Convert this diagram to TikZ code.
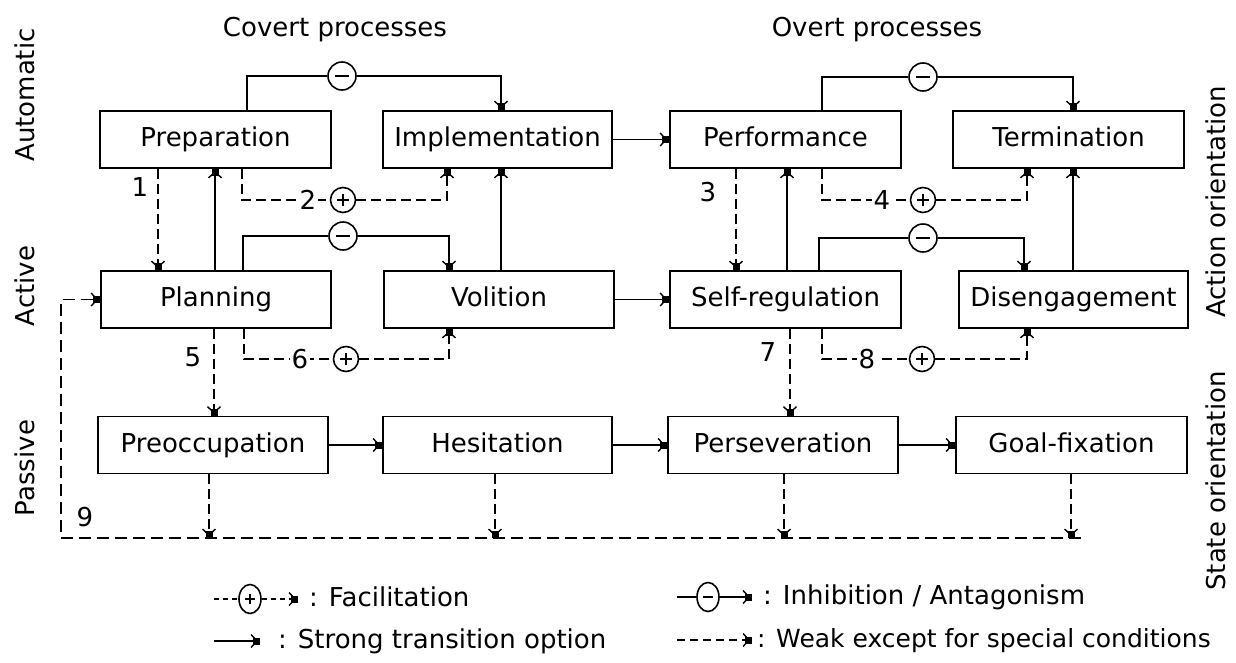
\documentclass[tikz,border=0pt]{standalone}
\usepackage{fontspec}
\setmainfont{DejaVu Sans}
\usetikzlibrary{arrows.meta,shapes.geometric}
\newcommand\figfont{\fontsize{26}{30}\selectfont}
\newcommand\legfont{\fontsize{25}{30}\selectfont}
\tikzset{
  box/.style={draw, line width=1.8pt, minimum height=57pt, inner sep=0pt, font=\figfont, text height=19pt, text depth=5pt},
  tipend/.style={-{Straight Barb[length=6pt,width=13pt,line width=1.4pt,sep=-5pt]Square[length=7pt,width=7pt]}},
  strong/.style={line width=1.8pt},
  weak/.style={line width=1.8pt, dash pattern=on 10pt off 5pt},
  sgn/.style={draw, fill=white, line width=1.6pt, inner sep=0pt},
  minus/.style={sgn, circle, minimum size=28pt,
    path picture={\draw[line width=1.7pt] ([xshift=-7pt]path picture bounding box.center) -- ([xshift=7pt]path picture bounding box.center);}},
  plus/.style={sgn, circle, minimum size=25pt,
    path picture={\draw[line width=1.7pt] ([xshift=-6pt]path picture bounding box.center) -- ([xshift=6pt]path picture bounding box.center)
      ([yshift=-6pt]path picture bounding box.center) -- ([yshift=6pt]path picture bounding box.center);}},
  num/.style={font=\figfont, inner sep=1pt},
  numw/.style={font=\figfont, inner sep=1.5pt, fill=white},
  txt/.style={font=\figfont, inner sep=0pt},
  legtxt/.style={font=\figfont, inner sep=0pt, anchor=west, text height=19pt, text depth=5pt},
}
\begin{document}
\begin{tikzpicture}[x=1pt, y=-1pt]
\useasboundingbox[fill=white] (0,0) rectangle (1236,662);

% titles
\node[txt, anchor=base] (tcov) at (335,36) {Covert processes};
\node[txt, anchor=base] (tov) at (877,36) {Overt processes};
\node[txt, rotate=90] (tauto) at (25,95) {Automatic};
\node[txt, rotate=90] (tact) at (25,286) {Active};
\node[txt, rotate=90] (tpass) at (25,468) {Passive};
\node[txt, rotate=90] (tao) at (1216,202) {Action orientation};
\node[txt, rotate=90] (tso) at (1216,481) {State orientation};

% boxes
\node[box, minimum width=231pt] (prep) at (215.5,139.5) {Preparation};
\node[box, minimum width=229pt] (impl) at (497.5,139.5) {Implementation};
\node[box, minimum width=231pt] (perf) at (785.5,139.5) {Performance};
\node[box, minimum width=231pt] (term) at (1068.5,139.5) {Termination};
\node[box, minimum width=230pt] (plan) at (216,299.5) {Planning};
\node[box, minimum width=230pt] (voli) at (499,299.5) {Volition};
\node[box, minimum width=231pt] (selfr) at (785.5,299.5) {Self-regulation};
\node[box, minimum width=229pt] (dise) at (1073.5,299.5) {Disengagement};
\node[box, minimum width=230pt] (preo) at (213,445) {Preoccupation};
\node[box, minimum width=229pt] (hesi) at (497.5,445) {Hesitation};
\node[box, minimum width=230pt] (pers) at (783,445) {Perseveration};
\node[box, minimum width=231pt] (goal) at (1071.5,445) {Goal-fixation};

% sign circles
\node[minus] (m1) at (342,76) {};
\node[minus] (m2) at (923,77) {};
\node[minus] (m3) at (343,236) {};
\node[minus] (m4) at (923,238) {};
\node[plus] (p1) at (343,200) {};
\node[plus] (p2) at (923,200) {};
\node[plus] (p3) at (346,359) {};
\node[plus] (p4) at (922,359) {};

% inhibition lines
\draw[strong] ([xshift=31.5pt]prep.north) |- (m1.west);
\draw[strong, tipend] (m1.east) -| ([xshift=3.5pt]impl.north);
\draw[strong] ([xshift=36.5pt]perf.north) |- (m2.west);
\draw[strong, tipend] (m2.east) -| ([xshift=4.5pt]term.north);
\draw[strong] ([xshift=27pt]plan.north) |- (m3.west);
\draw[strong, tipend] (m3.east) -| ([xshift=-50pt]voli.north);
\draw[strong] ([xshift=33.5pt]selfr.north) |- (m4.west);
\draw[strong, tipend] (m4.east) -| ([xshift=-49.5pt]dise.north);

% facilitation lines
\draw[weak] ([xshift=26.5pt]prep.south) |- (p1.west);
\draw[weak, tipend] (p1.east) -| ([xshift=-50.5pt]impl.south);
\draw[weak] ([xshift=36.5pt]perf.south) |- (p2.west);
\draw[weak, tipend] (p2.east) -| ([xshift=-41.5pt]term.south);
\draw[weak] ([xshift=28pt]plan.south) |- (p3.west);
\draw[weak, tipend] (p3.east) -| ([xshift=-50pt]voli.south);
\draw[weak] ([xshift=36.5pt]selfr.south) |- (p4.west);
\draw[weak, tipend] (p4.east) -| ([xshift=-46.5pt]dise.south);

% numbered labels
\node[num] (n1) at (140,187) {1};
\node[numw] (n2) at (308,200) {2};
\node[num] (n3) at (708,192) {3};
\node[numw] (n4) at (882,200) {4};
\node[num] (n5) at (193,357) {5};
\node[numw] (n6) at (300,359) {6};
\node[num] (n7) at (768,352) {7};
\node[numw] (n8) at (867,359) {8};
\node[num] (n9) at (85,517) {9};

% strong transitions
\draw[strong, tipend] ([xshift=-1pt]plan.north) -- ([xshift=-0.5pt]prep.south);
\draw[strong, tipend] ([xshift=2pt]voli.north) -- ([xshift=3.5pt]impl.south);
\draw[strong, tipend] ([xshift=1.5pt]selfr.north) -- ([xshift=1.5pt]perf.south);
\draw[strong, tipend] ([xshift=-0.5pt]dise.north) -- ([xshift=4.5pt]term.south);
\draw[strong, tipend] (impl.east) -- (perf.west);
\draw[strong, tipend] (voli.east) -- (selfr.west);
\draw[strong, tipend] (preo.east) -- (hesi.west);
\draw[strong, tipend] (hesi.east) -- (pers.west);
\draw[strong, tipend] (pers.east) -- (goal.west);

% weak transitions
\draw[weak, tipend] ([xshift=-57.5pt]prep.south) -- ([xshift=-58pt]plan.north);
\draw[weak, tipend] ([xshift=-49.5pt]perf.south) -- ([xshift=-49.5pt]selfr.north);
\draw[weak, tipend] ([xshift=-2pt]plan.south) -- ([xshift=1pt]preo.north);
\draw[weak, tipend] ([xshift=4.5pt]selfr.south) -- ([xshift=7pt]pers.north);

% return line 9
\coordinate (b0) at (61,538);
\coordinate (b1) at (209,538);
\coordinate (b2) at (495,538);
\coordinate (b3) at (784,538);
\coordinate (b4) at (1071,538);
\coordinate (bend) at (1081,538);
\draw[weak, tipend] ([xshift=-4pt]preo.south) -- (b1);
\draw[weak, tipend] ([xshift=-2.5pt]hesi.south) -- (b2);
\draw[weak, tipend] ([xshift=1pt]pers.south) -- (b3);
\draw[weak, tipend] ([xshift=-0.5pt]goal.south) -- (b4);
\draw[weak, dash pattern=on 12pt off 6pt, tipend] (bend) -- (b0) |- (plan.west);

% legend
\coordinate (lf0) at (214,599);
\coordinate (lf1) at (298,599);
\node[sgn, ellipse, minimum width=22pt, minimum height=29pt] (lfp) at (250,599) {};
\draw[line width=1.6pt] ([xshift=-5pt]lfp.center) -- ([xshift=5pt]lfp.center) ([yshift=-5pt]lfp.center) -- ([yshift=5pt]lfp.center);
\draw[weak, dash pattern=on 5pt off 4pt] (lf0) -- (lfp.west);
\draw[weak, dash pattern=on 5pt off 4pt, tipend] (lfp.east) -- (lf1);
\node[legtxt] (lft) at (309,599) {: Facilitation};

\coordinate (li0) at (677,597);
\coordinate (li1) at (752,597);
\node[sgn, ellipse, minimum width=22pt, minimum height=29pt] (lim) at (708,597) {};
\draw[line width=1.6pt] ([xshift=-5pt]lim.center) -- ([xshift=5pt]lim.center);
\draw[strong] (li0) -- (lim.west);
\draw[strong, tipend] (lim.east) -- (li1);
\node[legtxt] (lit) at (763,597) {: Inhibition / Antagonism};

\coordinate (ls0) at (214,641);
\coordinate (ls1) at (260,641);
\draw[strong, tipend] (ls0) -- (ls1);
\node[legtxt] (lst) at (278,641) {: Strong transition option};

\coordinate (lw0) at (677,640);
\coordinate (lw1) at (752,640);
\draw[weak, dash pattern=on 8pt off 5pt, tipend] (lw0) -- (lw1);
\node[legtxt, font=\legfont] (lwt) at (757,640) {: Weak except for special conditions};
\end{tikzpicture}
\end{document}
